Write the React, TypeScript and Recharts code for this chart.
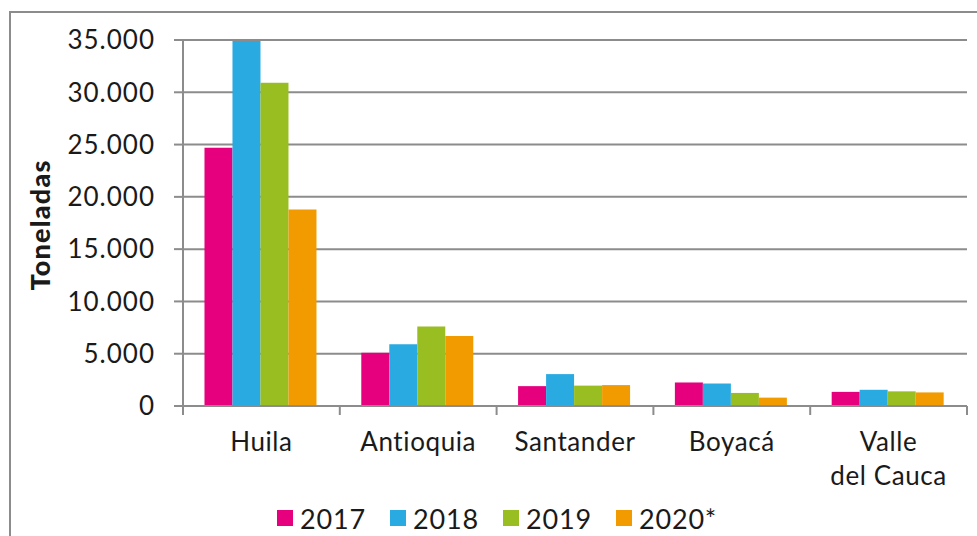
import { BarChart, Bar, XAxis, YAxis, CartesianGrid, Legend } from "recharts";

const CATEGORIES = ["Huila", "Antioquia", "Santander", "Boyacá", "Valle\ndel Cauca"];
const YEARS = ["2017", "2018", "2019", "2020*"];
const V2017 = [24700, 5100, 1900, 2250, 1350];
const V2018 = [34900, 5900, 3050, 2150, 1550];
const V2019 = [30900, 7600, 1950, 1250, 1400];
const V2020 = [18800, 6700, 2000, 800, 1300];
const Y_TICKS = [0, 5000, 10000, 15000, 20000, 25000, 30000, 35000];

const COLORS = ["#e6007e", "#29abe2", "#98be22", "#f29b00"];
const GRID = "#8c8c8c";
const FONT = "Lato, 'Open Sans', sans-serif";

const data = CATEGORIES.map((name, i) => ({
    name,
    y2017: V2017[i],
    y2018: V2018[i],
    y2019: V2019[i],
    y2020: V2020[i],
}));
const KEYS = ["y2017", "y2018", "y2019", "y2020"];

const PLOT_LEFT = 183;
const PLOT_RIGHT = 967;
const BAND = (PLOT_RIGHT - PLOT_LEFT) / CATEGORIES.length;

const fmt = (v: number) => String(v).replace(/\B(?=(\d{3})+(?!\d))/g, ".");

function CategoryTick(props: any) {
    const { x, y, payload, index } = props;
    const lines = String(payload.value).split("\n");
    return (
        <g>
            <line x1={x - BAND / 2} x2={x - BAND / 2} y1={y} y2={y + 9} stroke={GRID} strokeWidth={2} />
            {index === CATEGORIES.length - 1 && (
                <line x1={x + BAND / 2} x2={x + BAND / 2} y1={y} y2={y + 9} stroke={GRID} strokeWidth={2} />
            )}
            <text x={x} y={y + 45} textAnchor="middle" fill="#1a1a1a" fontSize={26} letterSpacing={0.6} fontFamily={FONT}>
                {lines.map((l, i) => (
                    <tspan key={i} x={x} dy={i === 0 ? 0 : 34}>{l}</tspan>
                ))}
            </text>
        </g>
    );
}

function YLabel() {
    return (
        <text
            x={39}
            y={225}
            transform="rotate(-90 39 225)"
            textAnchor="middle"
            dominantBaseline="central"
            fontSize={27}
            fontWeight={900}
            letterSpacing={1.2}
            fontFamily={FONT}
            fill="#1a1a1a"
        >
            Toneladas
        </text>
    );
}

function LegendContent() {
    return (
        <div style={{ display: "flex", paddingLeft: 277, height: 36, alignItems: "center", fontFamily: FONT, fontSize: 27, letterSpacing: 0.8, color: "#1a1a1a" }}>
            {YEARS.map((yr, i) => (
                <div key={yr} style={{ display: "flex", alignItems: "center", width: i < YEARS.length - 1 ? 113 : "auto" }}>
                    <span style={{ width: 16, height: 16, background: COLORS[i], marginRight: 7, display: "inline-block" }} />
                    <span>{yr}</span>
                </div>
            ))}
        </div>
    );
}

export default function App() {
    return (
        <div style={{ position: "fixed", left: 0, top: 0, width: 977, height: 536, overflow: "hidden", background: "#fff" }}>
            <div style={{ position: "absolute", left: 9, top: 11, width: 1000, height: 600, border: `2px solid ${GRID}` }} />
            <BarChart
                width={977}
                height={536}
                data={data}
                margin={{ top: 40, right: 10, left: 0, bottom: 0 }}
                barCategoryGap="13.7%"
                barGap={0}
                style={{ position: "absolute", left: 0, top: 0 }}
            >
                <CartesianGrid vertical={false} stroke={GRID} strokeWidth={2} />
                <XAxis
                    dataKey="name"
                    height={94}
                    axisLine={{ stroke: GRID, strokeWidth: 2 }}
                    tickLine={false}
                    tickSize={0}
                    tickMargin={0}
                    interval={0}
                    tick={<CategoryTick />}
                />
                <YAxis
                    width={183}
                    domain={[0, 35000]}
                    ticks={Y_TICKS}
                    interval={0}
                    tickFormatter={fmt}
                    tickSize={9}
                    tickMargin={19}
                    axisLine={{ stroke: GRID, strokeWidth: 2 }}
                    tickLine={{ stroke: GRID, strokeWidth: 2 }}
                    tick={{ fontSize: 26, fill: "#1a1a1a", fontFamily: FONT, letterSpacing: 1 }}
                    label={<YLabel />}
                />
                <Legend verticalAlign="bottom" align="left" content={<LegendContent />} />
                {KEYS.map((k, i) => (
                    <Bar key={k} dataKey={k} name={YEARS[i]} fill={COLORS[i]} isAnimationActive={false} />
                ))}
            </BarChart>
        </div>
    );
}
